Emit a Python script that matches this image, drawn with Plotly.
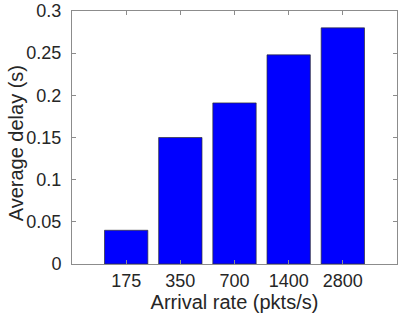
import plotly.graph_objects as go

categories = ["175", "350", "700", "1400", "2800"]
delays = [0.040, 0.150, 0.191, 0.248, 0.280]
y_ticks = [0, 0.05, 0.1, 0.15, 0.2, 0.25, 0.3]
y_tick_labels = ["0", "0.05", "0.1", "0.15", "0.2", "0.25", "0.3"]
x_title = "Arrival rate (pkts/s)"
y_title = "Average delay (s)"

x_pos = list(range(1, len(categories) + 1))

fig = go.Figure(
    go.Bar(
        x=x_pos,
        y=delays,
        width=0.8,
        marker=dict(color="#0000FF", line=dict(color="#303030", width=0.7)),
    )
)

axis_color = "#8c8c8c"
font = dict(family="Liberation Sans, Arial, sans-serif", size=18, color="#262626")

fig.update_layout(
    width=399,
    height=316,
    margin=dict(l=72, r=2, t=11, b=52),
    plot_bgcolor="white",
    paper_bgcolor="white",
    showlegend=False,
    font=font,
    xaxis=dict(
        range=[0, 6],
        tickmode="array",
        tickvals=x_pos,
        ticktext=categories,
        ticks="inside",
        ticklen=4,
        tickcolor=axis_color,
        showline=True,
        linecolor=axis_color,
        linewidth=1,
        mirror="ticks",
        showgrid=False,
        zeroline=False,
        automargin=False,
        title=dict(text=x_title, standoff=4, font=dict(size=20)),
        tickfont=dict(size=18),
    ),
    yaxis=dict(
        range=[0, 0.3],
        tickmode="array",
        tickvals=y_ticks,
        ticktext=y_tick_labels,
        ticks="inside",
        ticklen=4,
        tickcolor=axis_color,
        showline=True,
        linecolor=axis_color,
        linewidth=1,
        mirror="ticks",
        showgrid=False,
        zeroline=False,
        automargin=False,
        ticklabelstandoff=6,
        tickfont=dict(size=18),
    ),
    annotations=[
        dict(
            text=y_title,
            xref="paper",
            yref="paper",
            x=-0.173,
            y=0.476,
            xanchor="center",
            yanchor="middle",
            textangle=-90,
            showarrow=False,
            font=dict(size=20),
        )
    ],
)

fig.write_html(
    "out.html",
    config={"displayModeBar": False},
    post_script="document.body.style.margin='0';document.body.style.padding='0';",
)
